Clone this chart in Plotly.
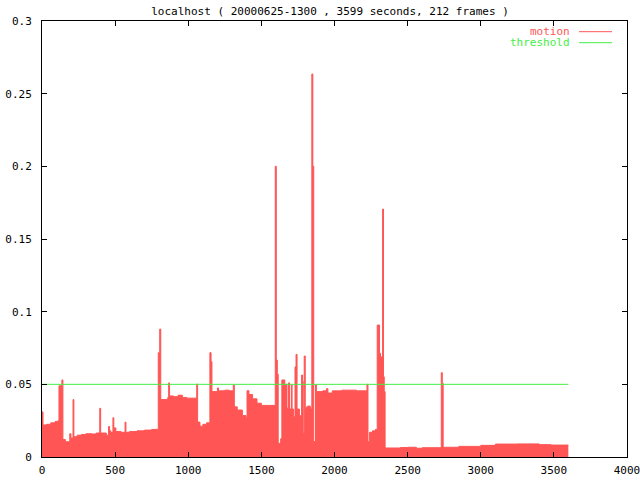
import plotly.graph_objects as go

# motion level per frame, as steps (start second, value)
motion_t = [0, 7, 30, 60, 90, 110, 116, 133, 136, 143, 160, 190, 198, 212, 218,
            240, 270, 300, 340, 370, 395, 401, 440, 455, 462, 470, 485, 491, 505,
            540, 568, 574, 600, 650, 700, 750, 795, 805, 812, 860, 866, 872, 900,
            930, 960, 990, 1058, 1064, 1080, 1100, 1125, 1148, 1156, 1162, 1200,
            1207, 1250, 1280, 1308, 1315, 1335, 1370, 1395, 1402, 1415, 1440, 1470,
            1500, 1595, 1602, 1609, 1615, 1632, 1640, 1660, 1675, 1685, 1693, 1705,
            1710, 1720, 1730, 1737, 1744, 1760, 1775, 1782, 1786, 1793, 1800, 1815,
            1835, 1845, 1852, 1858, 1870, 1876, 1920, 1945, 1955, 1985, 2050, 2150,
            2222, 2229, 2240, 2260, 2280, 2292, 2308, 2315, 2329, 2335, 2340, 2346,
            2450, 2500, 2560, 2600, 2730, 2737, 2743, 2850, 3000, 3100, 3250, 3400,
            3480, 3599]
motion_v = [0.031, 0.022, 0.0225, 0.0235, 0.0245, 0.025, 0.049, 0.045, 0.053, 0.012,
            0.0105, 0.016, 0.013, 0.0395, 0.014, 0.015, 0.0155, 0.016, 0.0158, 0.0165,
            0.0335, 0.0165, 0.015, 0.021, 0.018, 0.017, 0.027, 0.020, 0.0175, 0.017,
            0.024, 0.017, 0.0175, 0.018, 0.0185, 0.019, 0.0718, 0.088, 0.0395, 0.041,
            0.051, 0.042, 0.0415, 0.0425, 0.041, 0.0405, 0.0502, 0.024, 0.0212, 0.0225,
            0.0235, 0.0718, 0.0655, 0.045, 0.0475, 0.0455, 0.046, 0.0455, 0.0495,
            0.0345, 0.0323, 0.0285, 0.0268, 0.0456, 0.043, 0.040, 0.037, 0.0355, 0.2,
            0.0667, 0.057, 0.0094, 0.0126, 0.053, 0.050, 0.0335, 0.051, 0.033, 0.0496,
            0.033, 0.0277, 0.062, 0.0706, 0.033, 0.0284, 0.0564, 0.052, 0.0163, 0.0695,
            0.0343, 0.035, 0.033, 0.2635, 0.2, 0.0106, 0.0496, 0.045, 0.0455, 0.047,
            0.044, 0.0455, 0.046, 0.0455, 0.050, 0.0105, 0.017, 0.018, 0.019, 0.0908,
            0.0713, 0.0688, 0.1706, 0.0552, 0.045, 0.0062, 0.0065, 0.0067, 0.006,
            0.0064, 0.058, 0.0507, 0.0067, 0.0073, 0.0080, 0.0089, 0.009, 0.0085,
            0.0082, 0.0082]

threshold = 0.05
duration = 3599
title = "localhost ( 20000625-1300 , 3599 seconds, 212 frames )"

red = "#ff5555"
green = "#44ee44"
font = "DejaVu Sans Mono"

# plot box in pixels (left, right, top, bottom)
L, R, T, B = 42, 627, 21, 457

fig = go.Figure()

fig.add_trace(go.Scatter(
    x=motion_t, y=motion_v, mode="lines", line_shape="hv",
    line=dict(color=red, width=1), fill="tozeroy", fillcolor=red,
    name="motion", showlegend=False
))

fig.add_trace(go.Scatter(
    x=[0, duration], y=[threshold, threshold], mode="lines",
    line=dict(color=green, width=1), name="threshold", showlegend=False
))

# gnuplot style key: label on the left, sample line on the right
for i, (label, color) in enumerate([("motion", red), ("threshold", green)]):
    ypos = (B - (31.7 + 11 * i)) / (B - T)
    fig.add_annotation(text=label, x=(572 - L) / (R - L), y=ypos, xref="paper", yref="paper",
                       xanchor="right", yanchor="middle", showarrow=False,
                       font=dict(family=font, size=11, color=color))
    fig.add_shape(type="line", xref="paper", yref="paper",
                  x0=(579 - L) / (R - L), x1=(612 - L) / (R - L), y0=ypos, y1=ypos,
                  line=dict(color=color, width=1))

axis_common = dict(showline=True, linecolor="black", linewidth=1, mirror="ticks",
                   ticks="inside", ticklen=5, tickcolor="black", showgrid=False,
                   zeroline=False, automargin=False, ticklabeloverflow="allow",
                   tickfont=dict(family=font, size=11, color="black"))

fig.update_layout(
    width=640, height=480,
    margin=dict(l=L, r=640 - R, t=T, b=480 - B),
    paper_bgcolor="white", plot_bgcolor="white",
    font=dict(family=font, size=11, color="black"),
    title=dict(text=title, x=330 / 640, xanchor="center", y=1 - 10.7 / 480,
               yanchor="middle", font=dict(family=font, size=11, color="black")),
    xaxis=dict(range=[0, 4000], dtick=500, ticklabelstandoff=3, **axis_common),
    yaxis=dict(range=[0, 0.3], dtick=0.05, ticklabelstandoff=7, **axis_common),
)

# drop the page's default body margin so the 640x480 figure fills the window
fig.write_html("out.html", config={"displayModeBar": False},
               post_script="document.body.style.margin='0';")
